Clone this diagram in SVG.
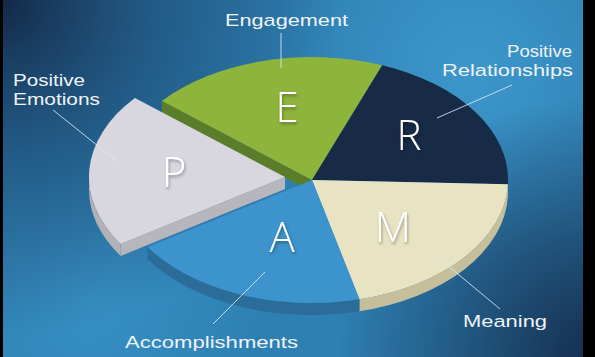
<svg xmlns="http://www.w3.org/2000/svg" width="595" height="357" viewBox="0 0 595 357">
<defs>
<radialGradient id="tl" cx="0" cy="0" r="340" gradientUnits="userSpaceOnUse">
<stop offset="0" stop-color="#132846"/>
<stop offset="0.45" stop-color="#1d4a72" stop-opacity="0.7"/>
<stop offset="1" stop-color="#1d4a72" stop-opacity="0"/>
</radialGradient>
<radialGradient id="br" cx="595" cy="357" r="260" gradientUnits="userSpaceOnUse">
<stop offset="0" stop-color="#152d4d"/>
<stop offset="1" stop-color="#152d4d" stop-opacity="0"/>
</radialGradient>
<radialGradient id="lt" cx="470" cy="70" r="200" gradientUnits="userSpaceOnUse">
<stop offset="0" stop-color="#3d97cb"/>
<stop offset="1" stop-color="#3d97cb" stop-opacity="0"/>
</radialGradient>
<radialGradient id="bl" cx="90" cy="300" r="170" gradientUnits="userSpaceOnUse">
<stop offset="0" stop-color="#3790c4"/>
<stop offset="1" stop-color="#3790c4" stop-opacity="0"/>
</radialGradient>
<filter id="sh" x="-20%" y="-20%" width="140%" height="140%">
<feDropShadow dx="1" dy="2" stdDeviation="1.5" flood-color="#000" flood-opacity="0.35"/>
</filter>
<style>
.lbl{font-family:"Liberation Sans",Arial,sans-serif;font-size:16.8px;fill:#eef4f8;}
.big{font-family:"Open Sans","Liberation Sans",sans-serif;font-size:42px;font-weight:300;fill:#ffffff;text-anchor:middle;filter:url(#sh);}
.ld{stroke:#dce9f2;stroke-width:1;stroke-opacity:0.85;fill:none;}
</style>
</defs>
<rect x="0" y="0" width="595" height="357" fill="#2e80b3"/>
<rect x="0" y="0" width="595" height="357" fill="url(#lt)"/>
<rect x="0" y="0" width="595" height="357" fill="url(#bl)"/>
<rect x="0" y="0" width="595" height="357" fill="url(#tl)"/>
<rect x="0" y="0" width="595" height="357" fill="url(#br)"/>

<g id="slice-E">
<polygon points="312,180 161.9,100.9 161.9,112.9 312,192" fill="#5a7d2a"/>
<path d="M312,180 L161.9,100.9 A196,123 0 0 1 382.2,65.2 Z" fill="#8db43b"/>
<text class="big" x="287" y="122">E</text>
</g>
<g id="slice-R">
<path d="M312,180 L382.2,65.2 A196,123 0 0 1 507.9,184.3 Z" fill="#172a46"/>
<text class="big" x="409" y="150">R</text>
</g>
<g id="slice-M">
<path d="M507.9,184.3 A196,123 0 0 1 359.4,299.3 L359.4,311.3 A196,123 0 0 0 507.9,196.3 Z" fill="#c5bf9c"/>
<path d="M312,180 L507.9,184.3 A196,123 0 0 1 359.4,299.3 Z" fill="#e7e3c3"/>
<text class="big" x="393" y="242">M</text>
</g>
<g id="slice-A">
<path d="M359.4,299.3 A196,123 0 0 1 147.6,247 L147.6,259 A196,123 0 0 0 359.4,311.3 Z" fill="#2b6c99"/>
<path d="M312,180 L359.4,299.3 A196,123 0 0 1 147.6,247 Z" fill="#3d93cb"/>
<text class="big" x="282" y="252">A</text>
</g>
<g id="slice-P">
<path d="M120.6,244 A196,123 0 0 1 89,177 L89,189 A196,123 0 0 0 120.6,256 Z" fill="#b3b1b8"/>
<polygon points="285,177 120.6,244 120.6,256 285,189" fill="#b8b6bd"/>
<path d="M285,177 L120.6,244 A196,123 0 0 1 134.9,97.9 Z" fill="#d8d7df"/>
<text class="big" x="174" y="187">P</text>
</g>

<g id="connectors">
<line class="ld" x1="281" y1="33" x2="281" y2="68"/>
<line class="ld" x1="53" y1="110" x2="118" y2="162"/>
<line class="ld" x1="512" y1="85" x2="437" y2="118"/>
<line class="ld" x1="435" y1="255" x2="500" y2="309"/>
<line class="ld" x1="265" y1="272" x2="213" y2="324"/>
</g>

<g id="labels">
<text class="lbl" x="225" y="26" textLength="123" lengthAdjust="spacingAndGlyphs">Engagement</text>
<text class="lbl" x="13" y="86" textLength="72" lengthAdjust="spacingAndGlyphs">Positive</text>
<text class="lbl" x="13" y="105" textLength="87" lengthAdjust="spacingAndGlyphs">Emotions</text>
<text class="lbl" x="507" y="57" textLength="65" lengthAdjust="spacingAndGlyphs">Positive</text>
<text class="lbl" x="442" y="76" textLength="131" lengthAdjust="spacingAndGlyphs">Relationships</text>
<text class="lbl" x="463" y="327" textLength="84" lengthAdjust="spacingAndGlyphs">Meaning</text>
<text class="lbl" x="125" y="348" textLength="173" lengthAdjust="spacingAndGlyphs">Accomplishments</text>
</g>

<rect x="0" y="0" width="3" height="357" fill="#000"/>
<rect x="583" y="0" width="12" height="357" fill="#000"/>
</svg>
